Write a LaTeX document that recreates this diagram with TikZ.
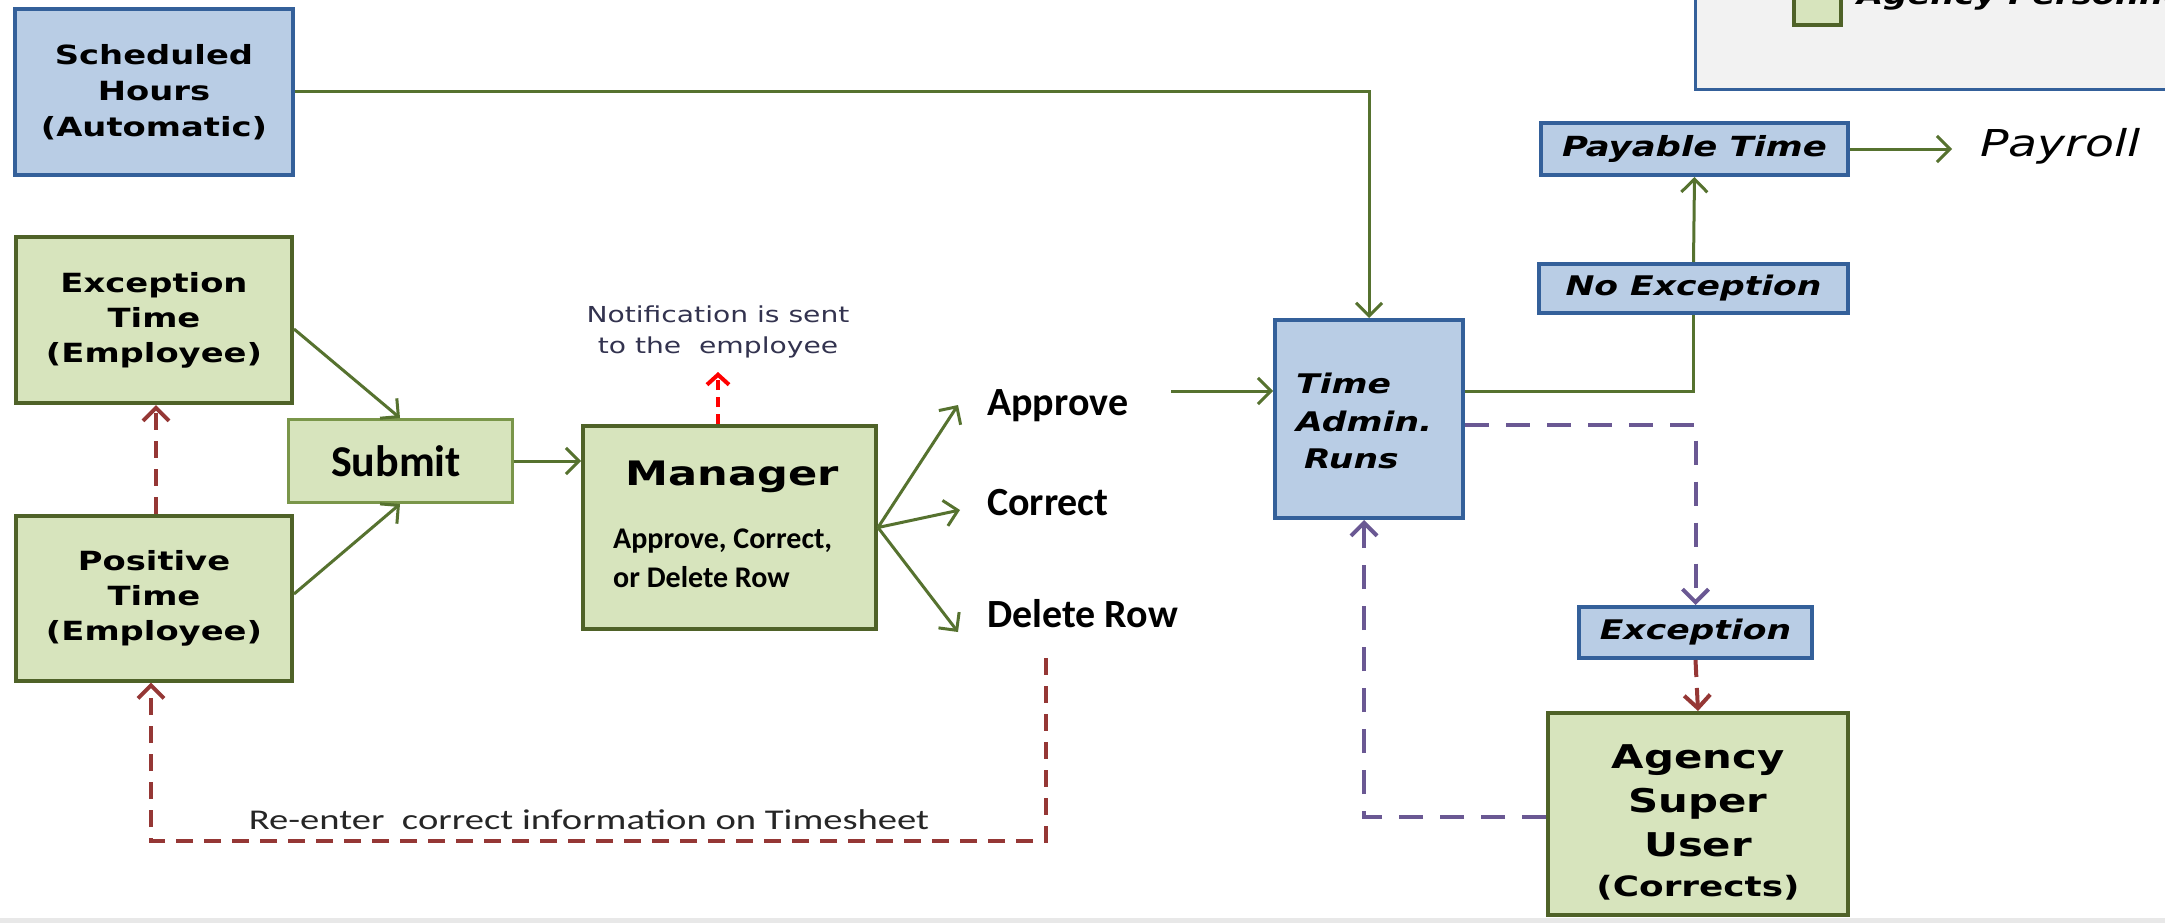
\documentclass[tikz,border=0pt]{standalone}
\usepackage{fontspec}
\usetikzlibrary{arrows.meta}
\newfontfamily\vfont[FakeStretch=1.28]{DejaVu Sans}
\newfontfamily\cfont{Carlito}
\newfontfamily\cwfont[FakeStretch=1.35]{Carlito}
\definecolor{gfill}{HTML}{D7E4BD}
\definecolor{gline}{HTML}{4F6228}
\definecolor{sline}{HTML}{7A964A}
\definecolor{bfill}{HTML}{B9CDE5}
\definecolor{bline}{HTML}{34609A}
\definecolor{arr}{HTML}{56722F}
\definecolor{redd}{HTML}{953735}
\definecolor{purd}{HTML}{6A5893}
\definecolor{legfill}{HTML}{F2F2F2}
\definecolor{botgray}{HTML}{E8E8E8}
\definecolor{notec}{HTML}{33334F}
\begin{document}
\begin{tikzpicture}[x=1pt,y=-1pt,
  gbox/.style={draw=gline, fill=gfill, line width=4pt, inner sep=0pt, align=center,
    font=\vfont\bfseries\fontsize{26.4}{35}\selectfont},
  bbox/.style={draw=bline, fill=bfill, line width=4pt, inner sep=0pt, align=center,
    font=\vfont\bfseries\itshape\fontsize{27}{30}\selectfont},
  tip/.style={-{Straight Barb[length=13pt,width=26pt]}},
  flow/.style={draw=arr, line width=3pt, tip},
  flowline/.style={draw=arr, line width=3pt},
  rflow/.style={draw=redd, line width=4pt, dash pattern=on 17pt off 11pt, tip},
  pflow/.style={draw=purd, line width=4pt, dash pattern=on 24pt off 17pt, tip},
  nflow/.style={draw=red, line width=4pt, dash pattern=on 10pt off 7pt, -{Straight Barb[length=10pt,width=22pt]}},
  calb/.style={inner sep=0pt, font=\cfont\bfseries\fontsize{#1}{#1}\selectfont},
]
\useasboundingbox (0,0) rectangle (2165,923);
\fill[white] (0,0) rectangle (2165,923);
\fill[botgray] (0,918) rectangle (2165,923);

% legend (cut off at top right, as in the reference)
\draw[draw=bline, fill=legfill, line width=3pt] (1695,-20) rectangle (2185,90);
\draw[draw=gline, fill=gfill, line width=4pt] (1794,-30) rectangle (1841,25);
\node[anchor=base west, inner sep=0pt, font=\vfont\bfseries\itshape\fontsize{26.4}{30}\selectfont] (legtxt) at (1857,5) {Agency Personnel};

% left column
\node[bbox, font=\vfont\bfseries\fontsize{26.4}{36}\selectfont, minimum width=278pt, minimum height=166pt] (sched) at (154,92) {Scheduled\\Hours\\(Automatic)};
\node[gbox, minimum width=276pt, minimum height=166pt] (exc) at (154,320) {Exception\\Time\\(Employee)};
\node[gbox, minimum width=276pt, minimum height=165pt] (pos) at (154,598) {Positive\\Time\\(Employee)};
\node[draw=sline, fill=gfill, line width=3pt, inner sep=0pt, minimum width=224pt, minimum height=83pt,
  font=\cfont\bfseries\fontsize{44}{44}\selectfont] (submit) at (400,461) {\hspace*{-8pt}Submit};

% manager
\node[gbox, minimum width=293pt, minimum height=203pt] (mgr) at (729.5,527.5) {};
\node[anchor=base, inner sep=0pt, font=\vfont\bfseries\fontsize{33.7}{34}\selectfont] (mgrt) at (732,485) {Manager};
\node[anchor=west, inner sep=0pt, align=left, font=\cfont\bfseries\fontsize{30}{39}\selectfont] (mgrs) at (613,558) {Approve, Correct,\\or Delete Row};

% notification
\node[inner sep=0pt, align=center, text=notec, font=\vfont\fontsize{22}{31}\selectfont] (notif) at (718,332) {Notification is sent\\to the\ \ employee};
\coordinate (ntip) at (718,372);
\draw[nflow] (ntip |- mgr.north) -- (ntip);

% decisions
\node[calb=40, anchor=base west] (apr) at (987,415) {Approve};
\node[calb=40, anchor=base west] (cor) at (987,515) {Correct};
\node[calb=40, anchor=base west] (del) at (987,627) {Delete Row};
\coordinate (ta) at (958,405);
\coordinate (tc) at (960,510);
\coordinate (td) at (958,632);

% time admin
\node[bbox, minimum width=188pt, minimum height=198pt] (tadm) at (1369,419) {};
\node[anchor=west, inner sep=0pt, align=left, font=\vfont\bfseries\itshape\fontsize{27}{37.5}\selectfont] (tadmt) at (1296,421) {Time\\Admin.\\\hspace*{8pt}Runs};

% right column
\node[bbox, font=\vfont\bfseries\itshape\fontsize{27.7}{30}\selectfont, minimum width=307pt, minimum height=52pt] (pay) at (1694.5,149) {Payable Time};
\node[bbox, minimum width=309pt, minimum height=49pt] (noex) at (1693.5,288.5) {No Exception};
\node[bbox, minimum width=233pt, minimum height=51pt] (exce) at (1695.5,632.5) {Exception};
\node[gbox, minimum width=300pt, minimum height=202pt] (agen) at (1698,814) {};
\node[inner sep=0pt, align=center, font=\vfont\bfseries\fontsize{32.7}{44}\selectfont] (agent) at (1698,822)
  {Agency\\Super\\User\\[-4pt]{\fontsize{28}{30}\selectfont(Corrects)}};
\node[anchor=west, inner sep=0pt, font=\vfont\itshape\fontsize{37}{40}\selectfont] (payroll) at (1980,146) {Payroll};

% bottom label
\node[inner sep=0pt, text=black!85, font=\cwfont\fontsize{28.6}{30}\selectfont] (reent) at (589,820) {Re-enter\ \ correct information on Timesheet};

% connectors
\draw[flow] (sched.east) -| (tadm.north);
\draw[flow] ([yshift=-9pt]exc.east) -- (submit.north);
\draw[flow] ([yshift=4pt]pos.east) -- (submit.south);
\draw[flow] (submit.east) -- (mgr.west |- submit.east);
\draw[flow] (mgr.east) -- (ta);
\draw[flow] (mgr.east) -- (tc);
\draw[flow] (mgr.east) -- (td);
\coordinate (as) at (1171,391);
\draw[flow] (as) -- (as -| tadm.west);
\draw[flowline] (tadm.east |- as) -| (noex.south);
\draw[flow] (noex.north) -- (pay.south);
\draw[flow] (pay.east) -- ([xshift=-28pt]payroll.west |- pay.east);
\draw[pflow] ([yshift=-6pt]tadm.east) -| (exce.north);
\draw[rflow] (exce.south) -- (agen.north);
\draw[pflow] ([yshift=-3pt]agen.west) -| ([xshift=-5pt]tadm.south);
\coordinate (drs) at (1046,658);
\coordinate (dbot) at (1046,841);
\draw[rflow] (drs) -- (dbot) -| ([xshift=-3pt]pos.south);
\draw[rflow] ([xshift=2pt]pos.north) -- ([xshift=2pt]exc.south);
\end{tikzpicture}
\end{document}
